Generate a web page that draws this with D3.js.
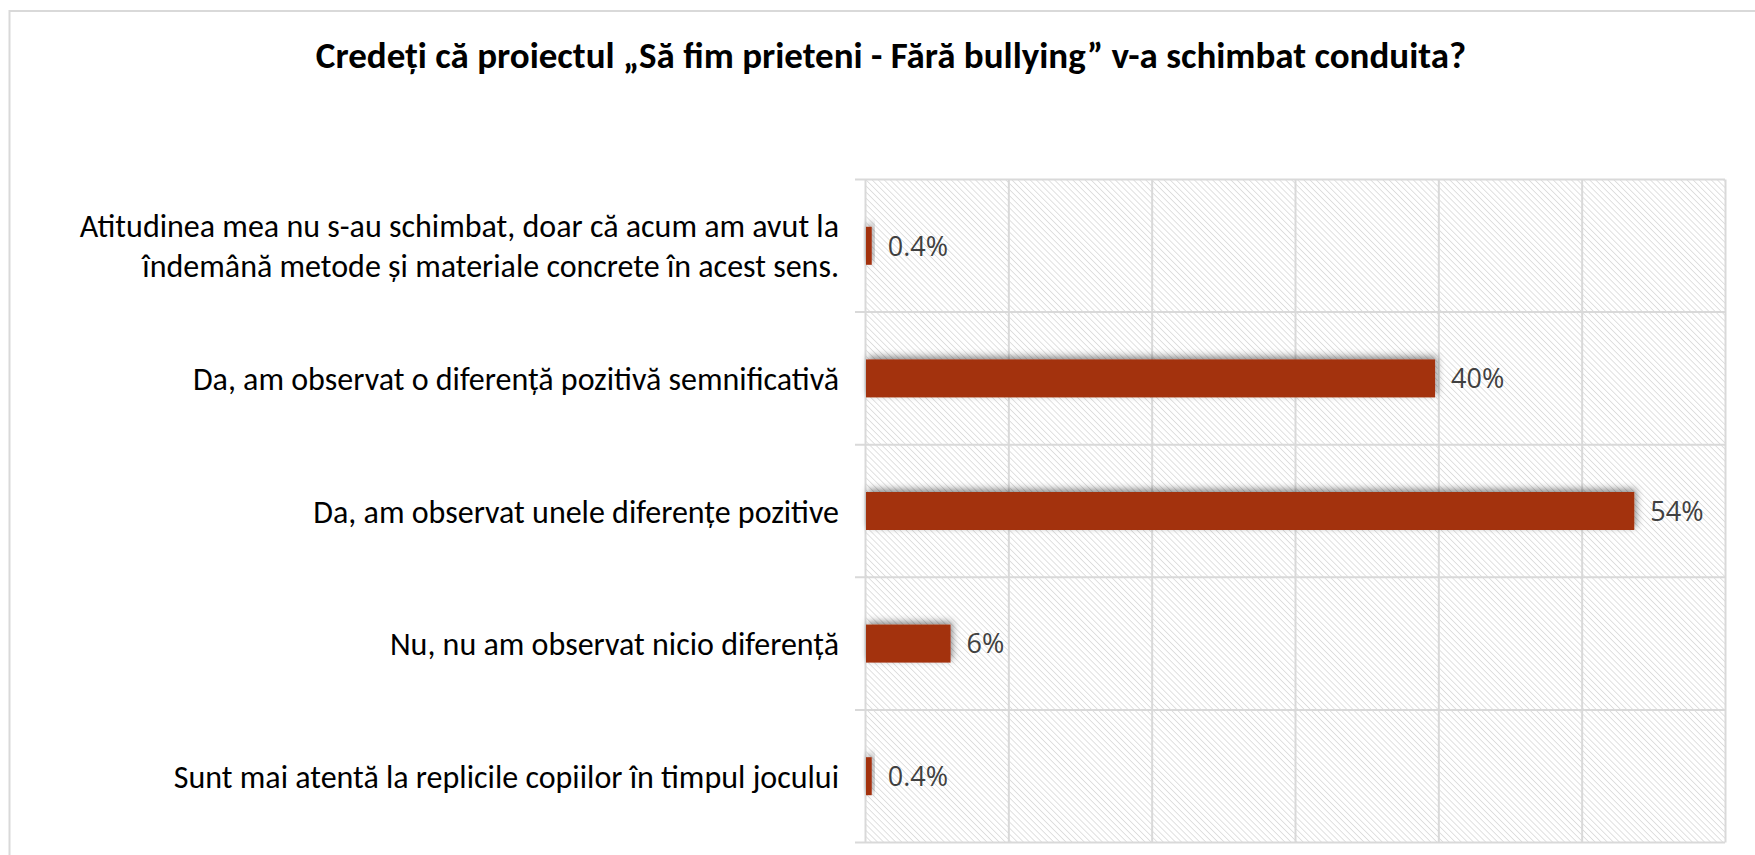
<!DOCTYPE html>
<html>
<head>
<meta charset="utf-8">
<script src="https://cdn.jsdelivr.net/npm/d3@7"></script>
<style>
  body { margin: 0; background: #fff; }
  svg { display: block; }
</style>
</head>
<body>
<div id="chart"></div>
<script>
const title = 'Credeți că proiectul „Să fim prieteni - Fără bullying” v-a schimbat conduita?';
const categories = [
  ['Atitudinea mea nu s-au schimbat, doar că acum am avut la', 'îndemână metode și materiale concrete în acest sens.'],
  ['Da, am observat o diferență pozitivă semnificativă'],
  ['Da, am observat unele diferențe pozitive'],
  ['Nu, nu am observat nicio diferență'],
  ['Sunt mai atentă la replicile copiilor în timpul jocului']
];
const values = [0.4, 39.7, 53.6, 5.9, 0.4];
const valueLabels = ['0.4%', '40%', '54%', '6%', '0.4%'];
const xTicks = [0, 10, 20, 30, 40, 50, 60];

const W = 1755, H = 855;
const margin = { top: 179.5, left: 865, right: 30, bottom: 12.5 };
const w = 1725 - margin.left;
const h = 842.5 - margin.top;

const svg = d3.select('#chart').append('svg')
  .attr('width', W)
  .attr('height', H);

const defs = svg.append('defs');
const pat = defs.append('pattern')
  .attr('id', 'hatch')
  .attr('patternUnits', 'userSpaceOnUse')
  .attr('width', 4.3)
  .attr('height', 4.3)
  .attr('patternTransform', 'rotate(-45)');
pat.append('rect').attr('width', 4.3).attr('height', 4.3).attr('fill', '#fff');
pat.append('line')
  .attr('x1', 0).attr('y1', 0).attr('x2', 0).attr('y2', 4.3)
  .attr('stroke', '#dadada').attr('stroke-width', 1.6);

const shadow = defs.append('filter')
  .attr('id', 'shadow')
  .attr('x', '-50%').attr('y', '-50%').attr('width', '200%').attr('height', '200%');
shadow.append('feDropShadow')
  .attr('dx', 2).attr('dy', -3).attr('stdDeviation', 3.5)
  .attr('flood-color', '#000').attr('flood-opacity', 0.45);

// outer frame
svg.append('rect')
  .attr('x', 9.5).attr('y', 11)
  .attr('width', W + 20).attr('height', H + 20)
  .attr('fill', 'none')
  .attr('stroke', '#d9d9d9')
  .attr('stroke-width', 2);

svg.append('text')
  .attr('x', 891).attr('y', 68)
  .attr('text-anchor', 'middle')
  .attr('font-family', 'Carlito, Lato, sans-serif')
  .attr('font-weight', 'bold')
  .attr('font-size', 37)
  .attr('fill', '#000')
  .text(title);

const g = svg.append('g').attr('transform', `translate(${margin.left},${margin.top})`);

const x = d3.scaleLinear().domain([0, 60]).range([0, w]);
const y = d3.scaleBand().domain(d3.range(categories.length)).range([0, h]);

g.append('rect')
  .attr('width', w).attr('height', h)
  .attr('fill', 'url(#hatch)');

// vertical gridlines
g.append('g')
  .call(d3.axisBottom(x).tickValues(xTicks).tickSize(h).tickFormat(''))
  .call(s => s.select('.domain').remove())
  .call(s => s.selectAll('line').attr('stroke', '#d9d9d9').attr('stroke-width', 2));

// horizontal gridlines (category separators)
g.selectAll('.hgrid')
  .data(d3.range(categories.length + 1))
  .enter()
  .append('line')
  .attr('class', 'hgrid')
  .attr('x1', -10).attr('x2', w)
  .attr('y1', d => d * y.step())
  .attr('y2', d => d * y.step())
  .attr('stroke', '#d9d9d9')
  .attr('stroke-width', 2);

const barH = 38;
g.selectAll('.bar')
  .data(values)
  .enter()
  .append('rect')
  .attr('class', 'bar')
  .attr('x', x(0) + 1)
  .attr('y', (d, i) => y(i) + y.bandwidth() / 2 - barH / 2)
  .attr('width', d => x(d) - x(0))
  .attr('height', barH)
  .attr('fill', '#a33011')
  .attr('filter', 'url(#shadow)');

g.selectAll('.vlabel')
  .data(values)
  .enter()
  .append('text')
  .attr('class', 'vlabel')
  .attr('x', d => x(d) + 17)
  .attr('y', (d, i) => y(i) + y.bandwidth() / 2)
  .attr('dy', '0.36em')
  .attr('font-family', '"Open Sans", sans-serif')
  .attr('font-size', 27)
  .attr('fill', '#404040')
  .text((d, i) => valueLabels[i]);

const cat = g.selectAll('.cat')
  .data(categories)
  .enter()
  .append('text')
  .attr('class', 'cat')
  .attr('x', -26)
  .attr('y', (d, i) => y(i) + y.bandwidth() / 2)
  .attr('text-anchor', 'end')
  .attr('font-family', 'Carlito, Lato, sans-serif')
  .attr('font-size', 32)
  .attr('fill', '#000');

cat.selectAll('tspan')
  .data(d => d.map((t, j) => ({ t, j, n: d.length })))
  .enter()
  .append('tspan')
  .attr('x', -26)
  .attr('dy', d => d.j === 0 ? `${0.36 - (d.n - 1) * 0.625}em` : '1.25em')
  .text(d => d.t);
</script>
</body>
</html>
